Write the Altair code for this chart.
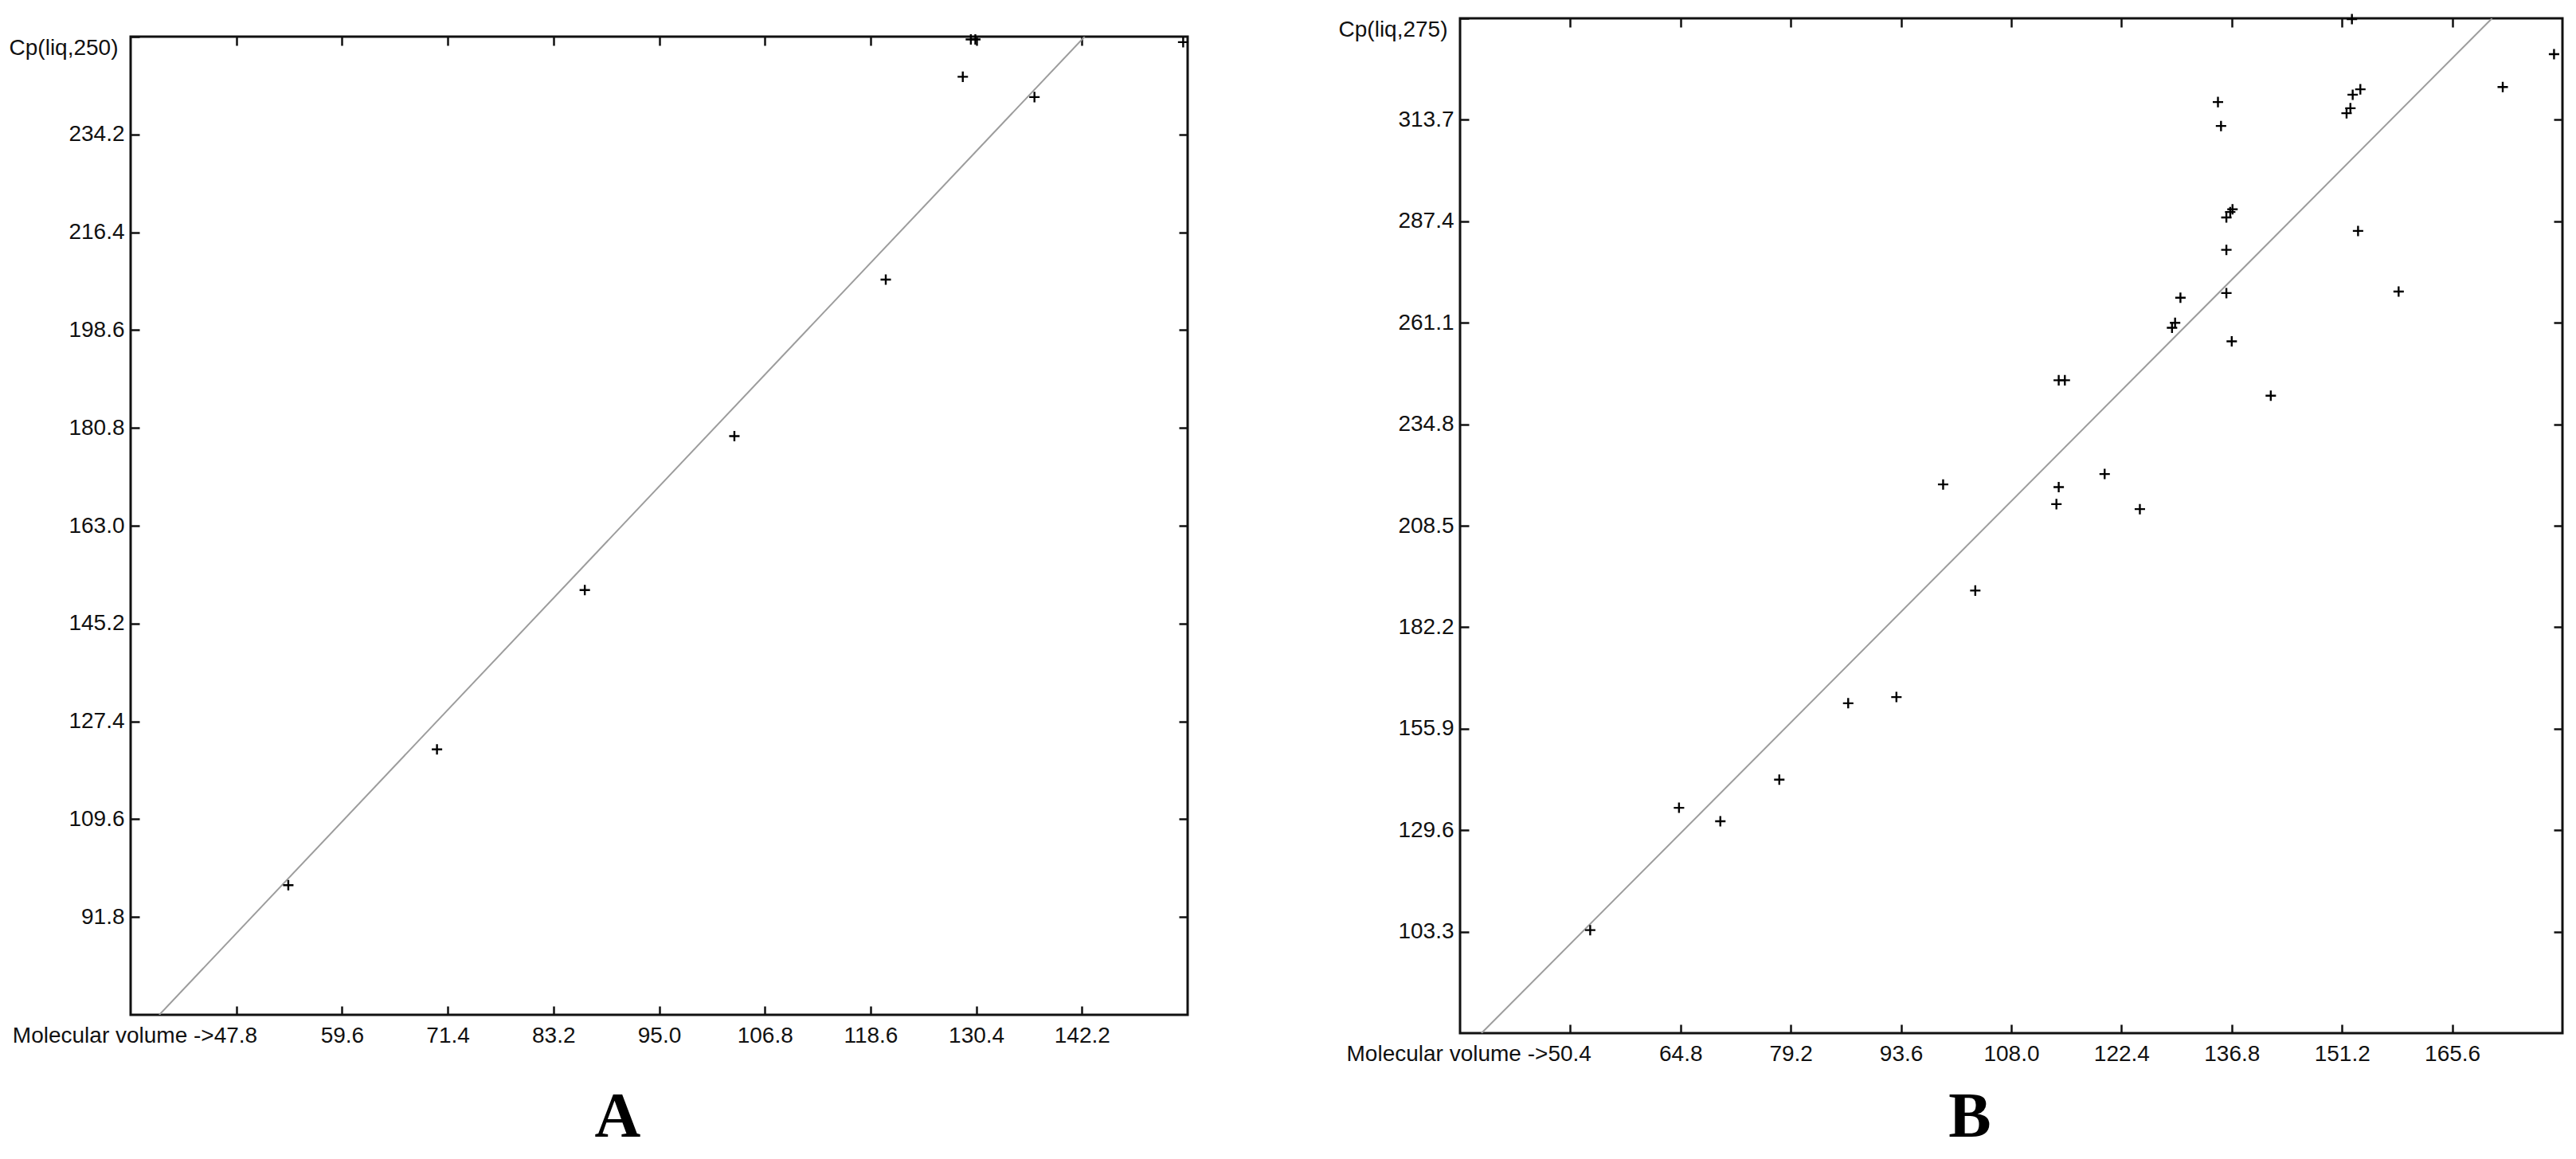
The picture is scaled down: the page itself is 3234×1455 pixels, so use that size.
import altair as alt
import pandas as pd

# ---------------- Panel A data ----------------
a_x = [53.6, 70.2, 86.7, 103.4, 120.3, 128.9, 129.8, 130.3, 136.9, 153.5]
a_y = [97.6, 122.3, 151.3, 179.3, 207.8, 244.7, 251.5, 251.5, 241.0, 251.0]
a_line_x = [39.2, 142.5]
a_line_y = [74.0, 252.0]
a_xticks = [47.8, 59.6, 71.4, 83.2, 95.0, 106.8, 118.6, 130.4, 142.2]
a_yticks = [91.8, 109.6, 127.4, 145.2, 163.0, 180.8, 198.6, 216.4, 234.2]
a_xdomain = [36.0, 154.0]
a_ydomain = [74.0, 252.0]
a_xname = "Molecular volume ->"
a_yname = "Cp(liq,250)"

# ---------------- Panel B data ----------------
b_x = [53.0, 64.6, 70.0, 77.7, 86.7, 93.0, 99.1, 103.3, 113.9, 114.2, 114.2, 115.0,
       120.2, 124.8, 129.0, 129.4, 130.1, 135.0, 135.4, 136.1, 136.1, 136.6, 136.9,
       136.1, 136.8, 141.9, 151.8, 152.3, 152.6, 153.6, 152.5, 153.3, 158.6, 172.2, 178.9]
b_y = [103.7, 135.4, 131.9, 142.7, 162.5, 164.1, 219.2, 191.7, 214.1, 218.5, 246.2, 246.2,
       221.9, 212.8, 259.8, 261.1, 267.6, 318.3, 312.1, 268.8, 280.0, 289.8, 290.5,
       288.4, 256.3, 242.2, 315.4, 316.7, 320.2, 321.6, 339.8, 284.9, 269.2, 322.2, 330.7]
b_line_x = [38.8, 170.8]
b_line_y = [77.0, 340.0]
b_xticks = [50.4, 64.8, 79.2, 93.6, 108.0, 122.4, 136.8, 151.2, 165.6]
b_yticks = [103.3, 129.6, 155.9, 182.2, 208.5, 234.8, 261.1, 287.4, 313.7]
b_xdomain = [36.0, 180.0]
b_ydomain = [77.0, 340.0]
b_xname = "Molecular volume ->"
b_yname = "Cp(liq,275)"

FONT = "Liberation Sans"
FS = 28
INK = "#111111"
CROSS = "M-1,0L1,0M0,-1L0,1"


def panel(xs, ys, lx, ly, xt, yt, xd, yd, xname, yname, w, h, letter, title_offset):
    pts = pd.DataFrame({"x": xs, "y": ys})
    ln = pd.DataFrame({"x": lx, "y": ly})
    first = xt[0]
    top = yd[1]
    common = dict(domain=False, grid=False, tickSize=11, tickWidth=2.5, tickColor=INK,
                  tickOpacity=1, offset=-11, title=None)
    x_bottom = alt.Axis(
        orient="bottom", values=xt, labelFont=FONT, labelFontSize=FS, labelColor=INK,
        labelPadding=12, labelFlush=False, labelOverlap=False, labelLimit=0,
        labelExpr=f"abs(datum.value - {first}) < 0.01 ? '{xname}' + format(datum.value, '.1f') : format(datum.value, '.1f')",
        labelAlign={"condition": {"test": f"abs(datum.value - {first}) < 0.01", "value": "right"}, "value": "center"},
        labelOffset={"condition": {"test": f"abs(datum.value - {first}) < 0.01", "value": 26}, "value": 0},
        **common)
    y_left = alt.Axis(
        orient="left", values=yt + [top], labelFont=FONT, labelFontSize=FS, labelColor=INK,
        labelFlush=False, labelOverlap=False, labelLimit=0,
        labelExpr=f"datum.value > {top - 1} ? '{yname}' : format(datum.value, '.1f')",
        labelBaseline={"condition": {"test": f"datum.value > {top - 1}", "value": "top"}, "value": "middle"},
        labelPadding={"condition": {"test": f"datum.value > {top - 1}", "value": 16}, "value": 8},
        **common)
    x_top = alt.Axis(orient="top", values=xt, labels=False, **common)
    y_right = alt.Axis(orient="right", values=yt, labels=False, **common)

    xs_ = alt.Scale(domain=xd, nice=False, zero=False)
    ys_ = alt.Scale(domain=yd, nice=False, zero=False)

    points = alt.Chart(pts).mark_point(
        shape=CROSS, size=170, filled=False, stroke="#000000", strokeWidth=2.4, opacity=1
    ).encode(
        x=alt.X("x:Q", scale=xs_, axis=x_bottom),
        y=alt.Y("y:Q", scale=ys_, axis=y_left),
    )
    line = alt.Chart(ln).mark_line(color="#9c9c9c", strokeWidth=2, clip=True).encode(
        x=alt.X("x:Q", scale=xs_, axis=x_top),
        y=alt.Y("y:Q", scale=ys_, axis=y_right),
    )
    return alt.layer(line, points).resolve_axis(x="independent", y="independent").properties(
        width=w, height=h,
        title=alt.TitleParams(text=letter, orient="bottom", anchor="middle", frame="group",
                              font="Liberation Serif", fontWeight="bold", fontSize=80,
                              color="#000000", offset=title_offset, dx=-52),
    )


A = panel(a_x, a_y, a_line_x, a_line_y, a_xticks, a_yticks, a_xdomain, a_ydomain,
          a_xname, a_yname, 1327, 1228, "A", 50)
B = panel(b_x, b_y, b_line_x, b_line_y, b_xticks, b_yticks, b_xdomain, b_ydomain,
          b_xname, b_yname, 1384, 1274, "B", 27)

chart = alt.hconcat(A, B, spacing=342, bounds="flush", center=True).properties(
    padding={"left": 1, "top": 3, "right": 5, "bottom": 5},
    background="white",
).configure_view(stroke="#111111", strokeWidth=3, strokeOpacity=1)

chart.save("out.html", embed_options={"renderer": "svg", "actions": False})
